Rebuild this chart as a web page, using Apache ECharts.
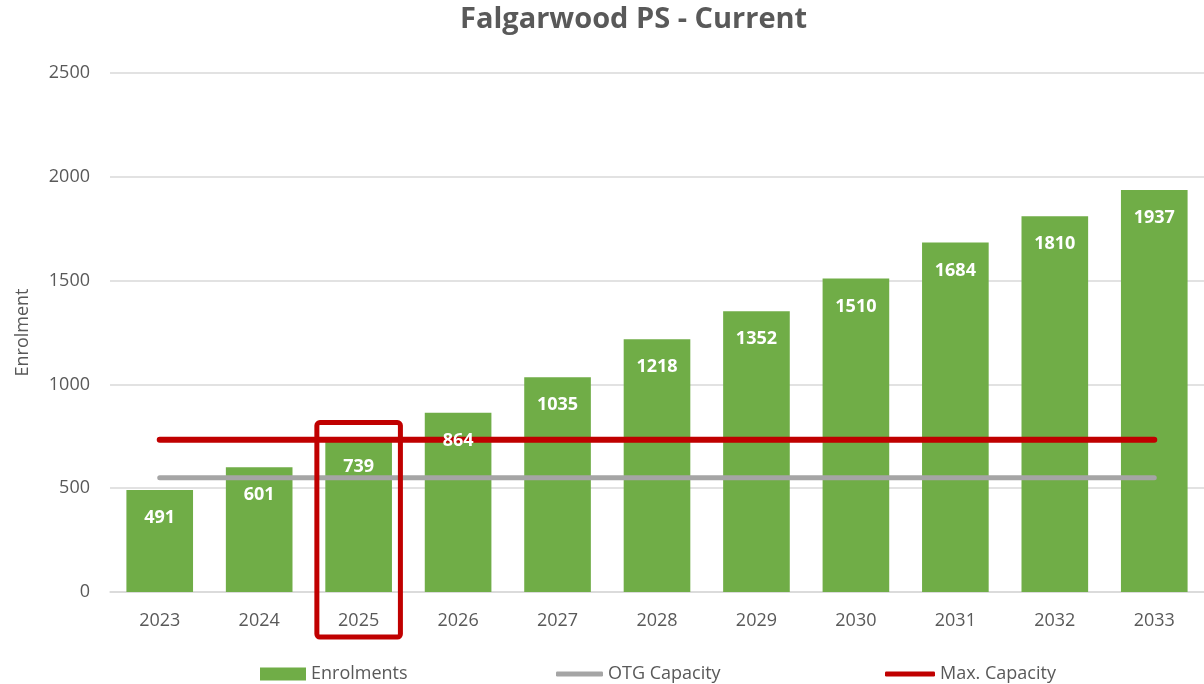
<!DOCTYPE html>
<html>
<head>
<meta charset="utf-8">
<script src="https://cdn.jsdelivr.net/npm/echarts@6/dist/echarts.min.js"></script>
<style>
  html, body { margin: 0; padding: 0; background: #fff; }
  #chart { width: 1204px; height: 684px; }
</style>
</head>
<body>
<div id="chart"></div>
<script>
// data
const years = ['2023', '2024', '2025', '2026', '2027', '2028', '2029', '2030', '2031', '2032', '2033']
const enrolments = [491, 601, 739, 864, 1035, 1218, 1352, 1510, 1684, 1810, 1937]
const otgCapacity = [550, 550, 550, 550, 550, 550, 550, 550, 550, 550, 550]
const maxCapacity = [733, 733, 733, 733, 733, 733, 733, 733, 733, 733, 733]
const highlightYear = '2025'

const font = '"Open Sans", "Noto Sans", sans-serif'
const grey = '#595959'

const chart = echarts.init(document.getElementById('chart'))

const legendText = { fontFamily: font, fontSize: 18, color: grey }

chart.setOption({
  animation: false,
  title: {
    text: 'Falgarwood PS - Current',
    left: 455,
    top: 0,
    textStyle: { fontFamily: font, fontSize: 29, fontWeight: 'bold', color: grey }
  },
  legend: [
    {
      data: ['Enrolments'],
      left: 255, top: 660,
      icon: 'rect', itemWidth: 46, itemHeight: 13, itemGap: 6,
      textStyle: legendText
    },
    {
      data: ['OTG Capacity'],
      left: 551, top: 660,
      icon: 'roundRect', itemWidth: 47, itemHeight: 5,
      textStyle: legendText
    },
    {
      data: ['Max. Capacity'],
      left: 880, top: 660,
      icon: 'roundRect', itemWidth: 50, itemHeight: 5,
      textStyle: legendText
    }
  ],
  grid: { left: 110, right: 0, top: 73, bottom: 92 },
  xAxis: {
    type: 'category',
    data: years,
    axisLine: { lineStyle: { color: '#d9d9d9', width: 1.5 } },
    axisTick: { show: false },
    axisLabel: { fontFamily: font, fontSize: 18, color: grey, margin: 20 }
  },
  yAxis: {
    type: 'value',
    min: 0, max: 2500, interval: 500,
    name: 'Enrolment',
    nameLocation: 'middle',
    nameRotate: 90,
    nameGap: 78,
    nameTextStyle: { fontFamily: font, fontSize: 18, color: grey },
    axisLabel: { fontFamily: font, fontSize: 18, color: grey, margin: 20, formatter: v => String(v) },
    splitLine: { lineStyle: { color: '#d9d9d9', width: 1.5 } }
  },
  series: [
    {
      name: 'Enrolments',
      type: 'bar',
      data: enrolments,
      barCategoryGap: '33%',
      itemStyle: { color: '#70AD47' },
      z: 2
    },
    {
      name: 'OTG Capacity',
      type: 'line',
      data: otgCapacity,
      symbol: 'none',
      itemStyle: { color: '#A5A5A5' },
      lineStyle: { color: '#A5A5A5', width: 5, cap: 'round' },
      z: 3
    },
    {
      name: 'Max. Capacity',
      type: 'line',
      data: maxCapacity,
      symbol: 'none',
      itemStyle: { color: '#C00000' },
      lineStyle: { color: '#C00000', width: 6, cap: 'round' },
      z: 3
    },
    {
      // transparent copy of the bars carrying the value labels above the lines
      name: 'labels',
      type: 'bar',
      data: enrolments,
      barGap: '-100%',
      barCategoryGap: '33%',
      itemStyle: { color: 'rgba(0,0,0,0)' },
      label: {
        show: true, position: 'insideTop', distance: 19,
        fontFamily: font, fontSize: 18, fontWeight: 'bold', color: '#fff'
      },
      silent: true,
      z: 5
    }
  ]
})

// red highlight box around the selected year, placed through the axes
const cx = chart.convertToPixel({ xAxisIndex: 0 }, highlightYear)
const topY = chart.convertToPixel({ yAxisIndex: 0 }, 816)
const baseY = chart.convertToPixel({ yAxisIndex: 0 }, 0)
const band = chart.convertToPixel({ xAxisIndex: 0 }, years[1]) - chart.convertToPixel({ xAxisIndex: 0 }, years[0])
const w = band * 0.84
chart.setOption({
  graphic: [{
    type: 'rect',
    shape: { x: cx - w / 2, y: topY, width: w, height: baseY + 45 - topY, r: 3 },
    style: { fill: 'none', stroke: '#C00000', lineWidth: 5 },
    z: 100
  }]
})
</script>
</body>
</html>
